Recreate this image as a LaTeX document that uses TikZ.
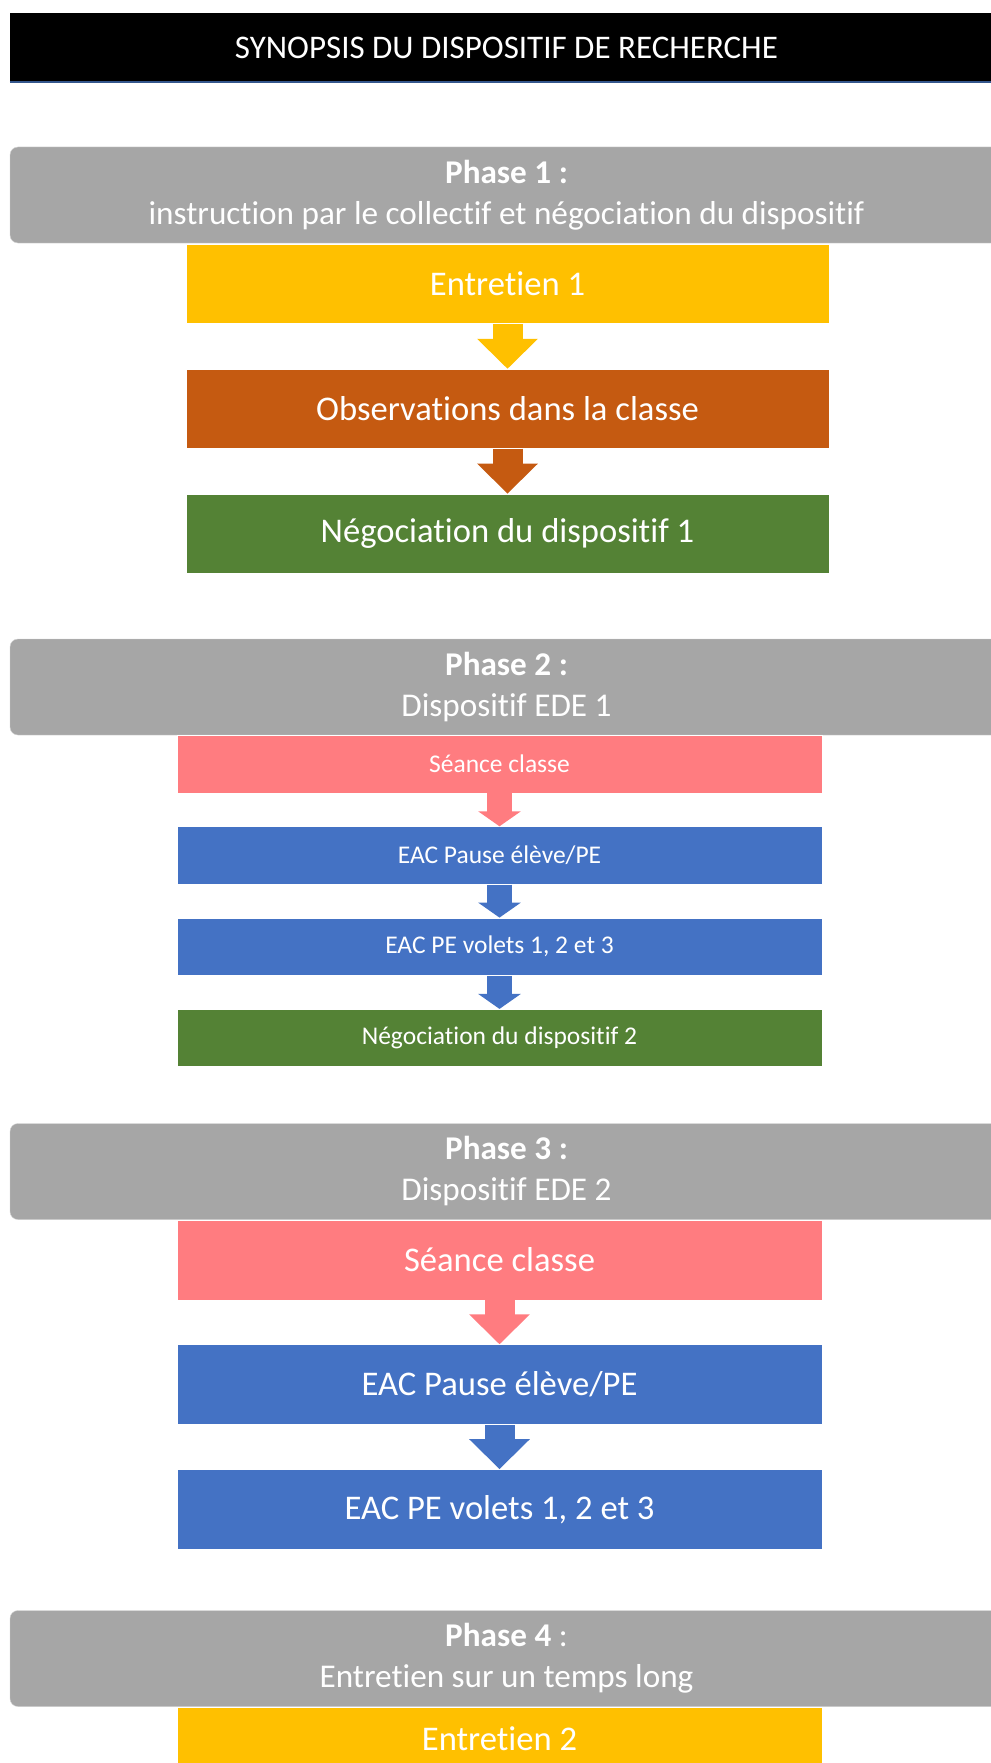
\documentclass[tikz,border=0pt]{standalone}
\usepackage{fontspec}
\setmainfont{Carlito}[Ligatures=NoCommon]
\usepackage{tikz}
\usetikzlibrary{arrows.meta,positioning,calc}
\definecolor{jaune}{RGB}{255,192,0}
\definecolor{brique}{RGB}{197,90,17}
\definecolor{vert}{RGB}{84,130,53}
\definecolor{saumon}{RGB}{255,124,128}
\definecolor{bleu}{RGB}{68,114,196}
\definecolor{gris}{RGB}{166,166,166}
\definecolor{liseret}{RGB}{52,86,140}
\tikzset{
    titre/.style={fill=black, text=white, inner sep=0pt,
        minimum width=993pt, minimum height=69pt,
        font=\fontsize{33}{40}\selectfont},
    phase/.style={fill=gris, draw=gray!35, rounded corners=8pt, text=white,
        inner sep=0pt, align=center,
        minimum width=993pt, minimum height=96pt,
        font=\fontsize{33.2}{41}\selectfont},
    etape/.style={draw=white, line width=0.8pt, text=white, inner sep=0pt,
        anchor=north, minimum width=645pt, minimum height=80pt,
        font=\fontsize{34.6}{41}\selectfont},
    petiteetape/.style={etape, minimum height=57.5pt,
        font=\fontsize{25.5}{30}\selectfont},
    fleche/.style={line width=30pt, -{Triangle[length=30pt,width=59pt]}},
    petitefleche/.style={line width=25pt, -{Triangle[length=15pt,width=42pt]}},
}

\begin{document}
\begin{tikzpicture}[x=1pt,y=-1pt]
    \pgfmathsetmacro{\milieu}{506.5}
    \pgfmathsetmacro{\boites}{499.5}
    \path[use as bounding box, fill=white] (0,0) rectangle (990,1763);

    \node[titre] (titre) at (\milieu,47.5) {SYNOPSIS DU DISPOSITIF DE RECHERCHE};
    \draw[liseret, line width=2pt] (titre.south west) -- (titre.south east);

    % phase 1
    \node[phase] (phase1) at (\milieu,195) {\textbf{Phase 1 :}\\instruction par le collectif et négociation du dispositif};
    \node[etape, fill=jaune, minimum width=643pt, minimum height=79pt] (entretien1) at (507.5,244) {Entretien 1};
    \node[etape, fill=brique, minimum width=643pt, minimum height=79pt, below=45pt of entretien1] (observations) {Observations dans la classe};
    \node[etape, fill=vert, minimum width=643pt, minimum height=79pt, below=45pt of observations] (negociation1) {Négociation du dispositif 1};
    \draw[fleche, jaune] (entretien1) -- (observations);
    \draw[fleche, brique] (observations) -- (negociation1);

    % phase 2
    \node[phase] (phase2) at (\milieu,687) {\textbf{Phase 2 :}\\Dispositif EDE 1};
    \node[petiteetape, fill=saumon] (seance1) at (\boites,735) {Séance classe};
    \node[petiteetape, fill=bleu, below=33pt of seance1] (pause1) {EAC Pause élève/PE};
    \node[petiteetape, fill=bleu, below=33pt of pause1] (volets1) {EAC PE volets 1, 2 et 3};
    \node[petiteetape, fill=vert, below=33pt of volets1] (negociation2) {Négociation du dispositif 2};
    \draw[petitefleche, saumon] (seance1) -- (pause1);
    \draw[petitefleche, bleu] (pause1) -- (volets1);
    \draw[petitefleche, bleu] (volets1) -- (negociation2);

    % phase 3
    \node[phase] (phase3) at (\milieu,1171.5) {\textbf{Phase 3 :}\\Dispositif EDE 2};
    \node[etape, fill=saumon] (seance2) at (\boites,1219.5) {Séance classe};
    \node[etape, fill=bleu, below=44pt of seance2] (pause2) {EAC Pause élève/PE};
    \node[etape, fill=bleu, below=44pt of pause2] (volets2) {EAC PE volets 1, 2 et 3};
    \draw[fleche, saumon] (seance2) -- (pause2);
    \draw[fleche, bleu] (pause2) -- (volets2);

    % phase 4
    \node[phase] (phase4) at (\milieu,1658.5) {\textbf{Phase 4} :\\Entretien sur un temps long};
    \node[etape, fill=jaune, minimum height=64pt] (entretien2) at (\boites,1706.5) {Entretien 2};
\end{tikzpicture}
\end{document}
